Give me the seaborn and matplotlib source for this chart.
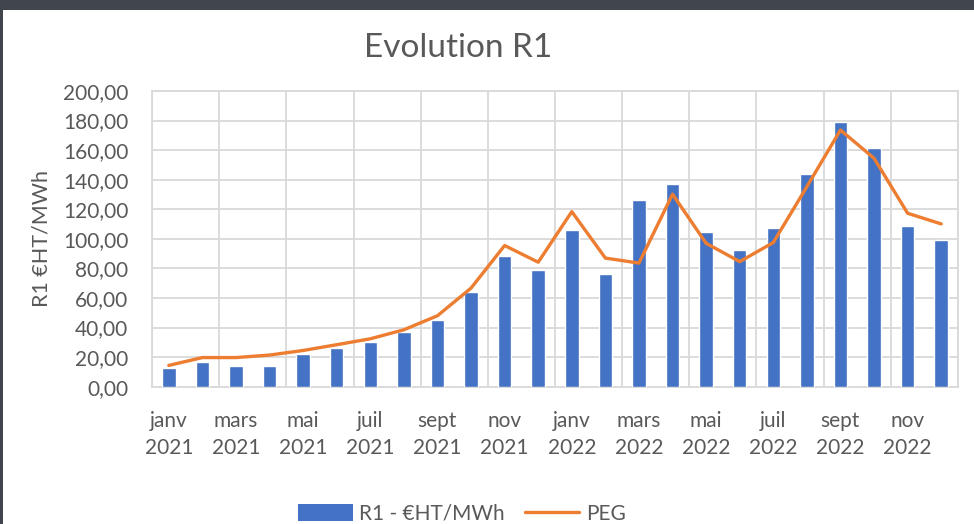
import matplotlib
matplotlib.use("Agg")
import matplotlib.pyplot as plt
import numpy as np
import pandas as pd
import seaborn as sns
from matplotlib.patches import Patch, Rectangle
from matplotlib.lines import Line2D
from matplotlib.ticker import FuncFormatter, MultipleLocator, FixedLocator

# Monthly data, January 2021 to December 2022
months = ["janv", "févr", "mars", "avr", "mai", "juin",
          "juil", "août", "sept", "oct", "nov", "déc"]
years = ["2021", "2022"]
r1_values = [12.6, 16.4, 13.7, 13.7, 22.1, 26.1, 29.9, 36.7, 45.0, 64.0, 88.1, 78.8,
             105.9, 76.1, 126.1, 137.0, 104.5, 92.3, 107.2, 143.7, 179.1, 161.3, 108.6, 99.1]
peg_values = [14.4, 19.7, 19.7, 21.4, 24.5, 28.4, 32.4, 38.5, 48.0, 66.7, 95.5, 84.2,
              118.4, 87.0, 83.6, 130.2, 97.0, 84.6, 97.5, 135.3, 173.6, 154.5, 117.3, 110.1]

periods = [f"{m}\n{y}" for y in years for m in months]
df = pd.DataFrame({"periode": periods, "R1": r1_values, "PEG": peg_values})
df["pos"] = np.arange(len(df))

BLUE = "#4472C4"
ORANGE = "#ED7D31"
GRID = "#D9D9D9"
TEXT = "#595959"
FONT = ["Lato", "DejaVu Sans"]

sns.set_theme(style="white")
plt.rcParams["font.family"] = FONT

fig = plt.figure(figsize=(9.74, 5.24), dpi=100)
fig.patch.set_facecolor("#41464E")
fig.patches.append(Rectangle((3 / 974, 0), 1, 1 - 10 / 524, transform=fig.transFigure,
                             facecolor="white", edgecolor="none", zorder=-1))

ax = fig.add_axes([152 / 974, 137.3 / 524, 806 / 974, 295.7 / 524])
ax.set_facecolor("white")

sns.barplot(data=df, x="pos", y="R1", color=BLUE, width=0.4, native_scale=True,
            saturation=1, ax=ax, zorder=3)
sns.lineplot(data=df, x="pos", y="PEG", color=ORANGE, linewidth=2.4, ax=ax, zorder=4)

ax.set_xlim(-0.5, len(df) - 0.5)
ax.set_ylim(0, 200)
ax.yaxis.set_major_locator(MultipleLocator(20))
ax.yaxis.set_major_formatter(FuncFormatter(lambda v, _: f"{v:.2f}".replace(".", ",")))

ax.xaxis.set_major_locator(FixedLocator(df["pos"].iloc[::2].tolist()))
ax.set_xticklabels(df["periode"].iloc[::2].tolist(), linespacing=1.45)
ax.xaxis.set_minor_locator(FixedLocator(np.arange(-0.5, len(df), 2)))

ax.grid(axis="y", which="major", color=GRID, linewidth=1.3, zorder=0)
ax.grid(axis="x", which="minor", color=GRID, linewidth=1.3, zorder=0)
ax.grid(axis="x", which="major", visible=False)
ax.set_axisbelow(True)
for s in ax.spines.values():
    s.set_color(GRID)
    s.set_linewidth(1.3)

ax.tick_params(axis="both", which="both", length=0, colors=TEXT, labelsize=15)
ax.tick_params(axis="y", pad=17)
ax.tick_params(axis="x", pad=17.5)
ax.set_xlabel("")
ax.set_ylabel("R1 €HT/MWh", fontsize=15.5, color=TEXT)
ax.yaxis.set_label_coords(-(152 - 52) / 806, 0.5)

fig.text(458 / 974, 1 - 48 / 524, "Evolution R1", ha="center", va="center",
         fontsize=24, color=TEXT)

handles = [Patch(facecolor=BLUE, edgecolor="none", label="R1 - €HT/MWh"),
           Line2D([0], [0], color=ORANGE, linewidth=2.4, label="PEG")]
fig.legend(handles=handles, loc="center", bbox_to_anchor=(462 / 974, 1 - 514 / 524),
           ncol=2, frameon=False, fontsize=15, labelcolor=TEXT,
           handlelength=2.6, handleheight=0.9, handletextpad=0.3, columnspacing=1.0)

fig.savefig("out.png", dpi=100, facecolor=fig.get_facecolor())
